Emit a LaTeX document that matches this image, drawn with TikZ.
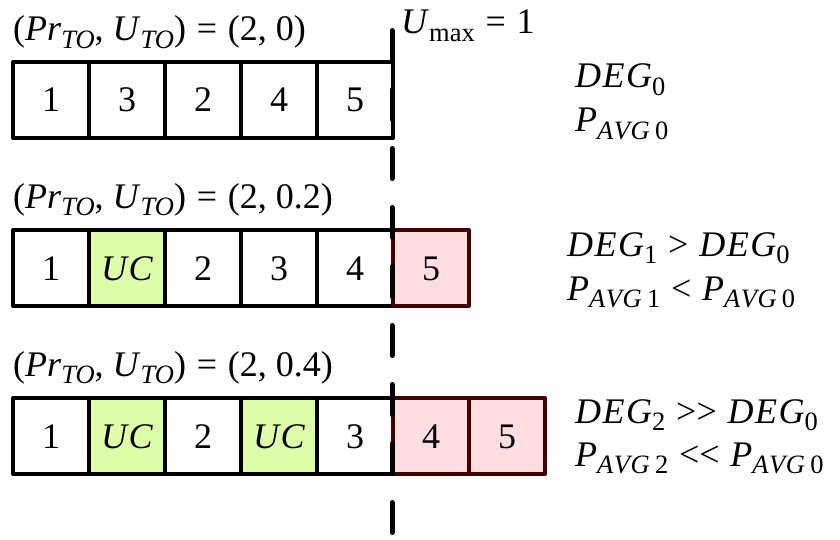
\documentclass[tikz,border=0pt]{standalone}
\usepackage{fontspec}
\setmainfont{Liberation Serif}
\newcommand\sbx[1]{\raisebox{-0.2em}{\fontsize{26.5}{30}\selectfont #1}}
\newcommand\sbi[1]{\sbx{\itshape #1}}
\newcommand\sbu[1]{\sbx{#1}}
\newcommand\rel[1]{\hspace{0.3em}#1\hspace{0.3em}}
\newcommand\cma{,\hspace{0.25em}}
\newcommand\degtxt{\textit{D\kern1.5pt E\kern1.5pt G}}
\newcommand\pavg[1]{\textit{P}\sbx{\itshape A\kern0.5pt V\kern0.5pt G\hspace{0.2em}\upshape #1}}
\definecolor{ucgreen}{RGB}{221,255,170}
\definecolor{ovpink}{RGB}{255,221,224}
\definecolor{ovborder}{RGB}{70,0,0}
\tikzset{
  cell/.style={draw=black, line width=4pt, line join=round, minimum width=76pt, minimum height=76pt, inner sep=0pt, outer sep=0pt, font=\fontsize{36}{42}\selectfont, text height=24pt, text depth=0pt},
  uccell/.style={cell, fill=ucgreen},
  ovcell/.style={cell, fill=ovpink, draw=ovborder},
  lbl/.style={inner sep=0pt, anchor=base west, font=\fontsize{36}{42}\selectfont},
  vline/.style={line width=5pt, line cap=round, dash pattern=on 30pt off 29pt},
}
\begin{document}
\begin{tikzpicture}[x=1pt, y=-1pt]
\useasboundingbox (0,0) rectangle (840,540);
% Row 1
\node[cell] (a1) at (51,100) {1};
\node[cell] (a2) at (127,100) {3};
\node[cell] (a3) at (203,100) {2};
\node[cell] (a4) at (279,100) {4};
\node[cell] (a5) at (355,100) {5};
% Row 2
\node[cell] (b1) at (51,268) {1};
\node[uccell] (b2) at (127,268) {\itshape U\kern1.5pt C};
\node[cell] (b3) at (203,268) {2};
\node[cell] (b4) at (279,268) {3};
\node[cell] (b5) at (355,268) {4};
\node[ovcell] (b6) at (431,268) {5};
% Row 3
\node[cell] (c1) at (51,436) {1};
\node[uccell] (c2) at (127,436) {\itshape U\kern1.5pt C};
\node[cell] (c3) at (203,436) {2};
\node[uccell] (c4) at (279,436) {\itshape U\kern1.5pt C};
\node[cell] (c5) at (355,436) {3};
\node[ovcell] (c6) at (431,436) {4};
\node[ovcell] (c7) at (507,436) {5};
% Labels
\node[lbl] (la) at (13,41) {(\textit{Pr}\sbi{TO}\cma\textit{U}\sbi{TO})\rel{=}(2\cma 0)};
\node[lbl] (lb) at (13,208) {(\textit{Pr}\sbi{TO}\cma\textit{U}\sbi{TO})\rel{=}(2\cma 0.2)};
\node[lbl] (lc) at (13,376) {(\textit{Pr}\sbi{TO}\cma\textit{U}\sbi{TO})\rel{=}(2\cma 0.4)};
\node[lbl] (um) at (401,34) {\textit{U}\sbu{max}\rel{=}1};
\node[lbl] (d0) at (575,88) {\degtxt\sbu{0}};
\node[lbl] (p0) at (575,132) {\pavg{0}};
\node[lbl] (d1) at (567,256) {\degtxt\sbu{1}\rel{>}\degtxt\sbu{0}};
\node[lbl] (p1) at (567,300) {\pavg{1}\rel{<}\pavg{0}};
\node[lbl] (d2) at (575,423) {\degtxt\sbu{2}\rel{>\kern0pt>}\degtxt\sbu{0}};
\node[lbl] (p2) at (575,466) {\pavg{2}\rel{<\kern0pt<}\pavg{0}};
% Utilisation limit
\coordinate (ut) at (392,30.5);
\coordinate (ub) at (392,532.5);
\draw[vline] (ut) -- (ub);
\end{tikzpicture}
\end{document}
